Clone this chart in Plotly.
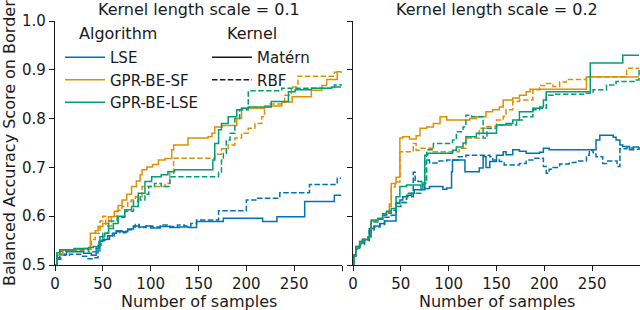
import plotly.graph_objects as go

# ---------------- data ----------------
algorithms = ["LSE", "GPR-BE-SF", "GPR-BE-LSE"]
kernels = ["Matérn", "RBF"]
legend_titles = ["Algorithm", "Kernel"]
panel_titles = ["Kernel length scale = 0.1", "Kernel length scale = 0.2"]
x_tick_vals = [0, 50, 100, 150, 200, 250, 300]
x_tick_text = ["0", "50", "100", "150", "200", "250", ""]
y_tick_vals = [0.5, 0.6, 0.7, 0.8, 0.9, 1.0]
y_tick_text = ["0.5", "0.6", "0.7", "0.8", "0.9", "1.0"]

# ----- length scale 0.1 -----
s1_lse_matern_x = [0, 2, 5, 12, 30, 38, 43, 46, 50, 55, 60, 64, 70, 76, 82, 88, 95, 100, 110, 120, 130, 140, 148, 176, 217, 232, 261, 292, 299]
s1_lse_matern_y = [0.500, 0.515, 0.522, 0.527, 0.524, 0.520, 0.535, 0.548, 0.552, 0.560, 0.565, 0.570, 0.568, 0.574, 0.580, 0.578, 0.580, 0.576, 0.579, 0.577, 0.578, 0.577, 0.589, 0.596, 0.589, 0.599, 0.630, 0.643, 0.643]
s1_lse_rbf_x = [0, 2, 6, 15, 28, 33, 40, 45, 48, 52, 57, 62, 68, 74, 80, 84, 88, 95, 102, 110, 120, 128, 135, 142, 148, 171, 200, 212, 235, 266, 295, 299]
s1_lse_rbf_y = [0.500, 0.512, 0.520, 0.522, 0.518, 0.513, 0.515, 0.540, 0.550, 0.553, 0.560, 0.568, 0.566, 0.572, 0.578, 0.583, 0.577, 0.580, 0.578, 0.582, 0.579, 0.582, 0.580, 0.585, 0.592, 0.611, 0.633, 0.637, 0.648, 0.665, 0.678, 0.678]
s1_sf_matern_x = [0, 2, 8, 20, 30, 37, 42, 45, 50, 56, 62, 66, 70, 75, 80, 85, 89, 91, 96, 102, 108, 115, 122, 124, 139, 160, 164, 167, 175, 190, 195, 219, 237, 248, 268, 279, 284, 295, 299]
s1_sf_matern_y = [0.500, 0.520, 0.530, 0.532, 0.534, 0.565, 0.570, 0.579, 0.585, 0.599, 0.610, 0.622, 0.633, 0.645, 0.661, 0.672, 0.685, 0.695, 0.701, 0.706, 0.715, 0.718, 0.736, 0.746, 0.760, 0.763, 0.770, 0.783, 0.786, 0.800, 0.821, 0.826, 0.834, 0.845, 0.858, 0.868, 0.880, 0.896, 0.896]
s1_sf_rbf_x = [0, 2, 8, 20, 30, 38, 42, 47, 50, 53, 59, 65, 70, 76, 80, 84, 91, 111, 115, 120, 124, 167, 174, 181, 188, 195, 202, 209, 216, 219, 223, 240, 247, 254, 292, 299]
s1_sf_rbf_y = [0.500, 0.520, 0.528, 0.530, 0.532, 0.552, 0.565, 0.590, 0.600, 0.580, 0.600, 0.612, 0.620, 0.630, 0.633, 0.640, 0.661, 0.661, 0.667, 0.688, 0.719, 0.727, 0.738, 0.746, 0.760, 0.770, 0.780, 0.790, 0.804, 0.824, 0.830, 0.848, 0.865, 0.887, 0.895, 0.897]
s1_bl_matern_x = [0, 2, 5, 20, 35, 40, 47, 52, 56, 61, 66, 73, 80, 87, 94, 101, 111, 118, 125, 165, 167, 171, 174, 181, 190, 195, 202, 226, 244, 251, 268, 289, 299]
s1_bl_matern_y = [0.500, 0.525, 0.531, 0.534, 0.536, 0.538, 0.558, 0.565, 0.575, 0.585, 0.600, 0.613, 0.620, 0.647, 0.671, 0.681, 0.685, 0.691, 0.695, 0.715, 0.749, 0.777, 0.790, 0.804, 0.818, 0.821, 0.824, 0.835, 0.855, 0.859, 0.862, 0.865, 0.865]
s1_bl_rbf_x = [0, 2, 5, 20, 35, 42, 47, 50, 56, 65, 73, 82, 87, 89, 94, 98, 104, 111, 120, 171, 174, 176, 179, 183, 188, 193, 202, 237, 292, 299]
s1_bl_rbf_y = [0.500, 0.522, 0.528, 0.532, 0.527, 0.527, 0.550, 0.565, 0.590, 0.598, 0.610, 0.630, 0.640, 0.633, 0.645, 0.661, 0.667, 0.661, 0.681, 0.690, 0.715, 0.729, 0.756, 0.770, 0.800, 0.818, 0.857, 0.862, 0.869, 0.871]

# ----- length scale 0.2 -----
s2_lse_matern_x = [0, 1, 3, 7, 12, 17, 22, 28, 33, 45, 49, 52, 57, 61, 64, 75, 80, 94, 98, 103, 104, 115, 117, 132, 136, 139, 143, 150, 157, 160, 167, 174, 181, 195, 199, 205, 254, 258, 272, 275, 279, 282, 289, 293, 299]
s2_lse_matern_y = [0.500, 0.520, 0.535, 0.545, 0.552, 0.575, 0.580, 0.585, 0.590, 0.626, 0.633, 0.640, 0.643, 0.647, 0.654, 0.657, 0.661, 0.655, 0.658, 0.691, 0.715, 0.715, 0.691, 0.699, 0.722, 0.700, 0.712, 0.725, 0.732, 0.726, 0.736, 0.733, 0.729, 0.731, 0.739, 0.736, 0.756, 0.766, 0.762, 0.756, 0.746, 0.743, 0.736, 0.742, 0.742]
s2_lse_rbf_x = [0, 1, 3, 7, 12, 17, 22, 28, 33, 40, 45, 50, 56, 63, 65, 68, 73, 75, 80, 90, 98, 110, 118, 143, 146, 153, 158, 174, 181, 188, 199, 202, 205, 209, 216, 226, 233, 244, 247, 251, 254, 261, 265, 276, 279, 286, 293, 299]
s2_lse_rbf_y = [0.500, 0.518, 0.533, 0.542, 0.550, 0.570, 0.578, 0.583, 0.598, 0.602, 0.620, 0.628, 0.640, 0.690, 0.672, 0.671, 0.655, 0.715, 0.709, 0.713, 0.715, 0.722, 0.725, 0.722, 0.715, 0.712, 0.705, 0.708, 0.715, 0.719, 0.702, 0.688, 0.696, 0.700, 0.707, 0.710, 0.713, 0.725, 0.735, 0.730, 0.722, 0.708, 0.713, 0.702, 0.738, 0.740, 0.737, 0.742]
s2_sf_matern_x = [0, 1, 3, 7, 10, 16, 19, 26, 31, 35, 38, 40, 45, 49, 52, 59, 66, 70, 77, 84, 91, 98, 122, 129, 139, 146, 153, 157, 167, 174, 181, 185, 244, 299]
s2_sf_matern_y = [0.500, 0.520, 0.538, 0.548, 0.552, 0.558, 0.590, 0.594, 0.603, 0.608, 0.625, 0.667, 0.680, 0.760, 0.763, 0.758, 0.765, 0.780, 0.783, 0.790, 0.804, 0.797, 0.800, 0.804, 0.814, 0.818, 0.824, 0.838, 0.842, 0.848, 0.855, 0.860, 0.885, 0.885]
s2_sf_rbf_x = [0, 1, 3, 7, 10, 16, 19, 26, 31, 35, 38, 40, 44, 49, 63, 66, 70, 84, 98, 111, 118, 132, 139, 150, 157, 160, 167, 174, 188, 195, 202, 209, 216, 223, 244, 286, 299]
s2_sf_rbf_y = [0.500, 0.520, 0.538, 0.548, 0.552, 0.558, 0.590, 0.594, 0.603, 0.608, 0.620, 0.660, 0.670, 0.732, 0.749, 0.735, 0.739, 0.732, 0.732, 0.739, 0.760, 0.780, 0.784, 0.797, 0.805, 0.818, 0.835, 0.838, 0.859, 0.868, 0.872, 0.866, 0.875, 0.880, 0.886, 0.903, 0.903]
s2_bl_matern_x = [0, 1, 3, 7, 10, 16, 19, 26, 31, 35, 40, 45, 49, 56, 75, 78, 104, 108, 115, 118, 129, 150, 160, 167, 174, 188, 195, 199, 202, 248, 282, 299]
s2_bl_matern_y = [0.500, 0.520, 0.538, 0.548, 0.552, 0.558, 0.592, 0.596, 0.605, 0.610, 0.616, 0.640, 0.661, 0.664, 0.725, 0.729, 0.735, 0.742, 0.750, 0.763, 0.770, 0.787, 0.790, 0.797, 0.814, 0.821, 0.824, 0.838, 0.855, 0.914, 0.930, 0.930]
s2_bl_rbf_x = [0, 1, 3, 7, 10, 16, 19, 26, 31, 35, 40, 45, 56, 71, 77, 84, 104, 108, 115, 118, 124, 136, 140, 150, 171, 178, 188, 195, 202, 209, 244, 251, 265, 275, 296, 299]
s2_bl_rbf_y = [0.500, 0.520, 0.536, 0.546, 0.552, 0.558, 0.588, 0.594, 0.602, 0.606, 0.612, 0.628, 0.647, 0.668, 0.736, 0.749, 0.756, 0.773, 0.783, 0.807, 0.804, 0.760, 0.780, 0.787, 0.797, 0.804, 0.818, 0.821, 0.848, 0.850, 0.852, 0.859, 0.869, 0.876, 0.879, 0.900]

# ---------------- styling ----------------
colors = {"LSE": "#0173B2", "GPR-BE-SF": "#DE8F05", "GPR-BE-LSE": "#029E73"}
dashes = {"Matérn": "solid", "RBF": "5.5px,2.4px"}
FONT = "DejaVu Sans"
INK = "#1a1a1a"

W, H = 640, 310
ML, MR, MT, MB = 55, 0, 21, 45
PW = W - ML - MR
PH = H - MT - MB

def px_x(p):
    return (p - ML) / PW

def px_y(p):
    return (H - MB - p) / PH

series = {
    (0, "LSE", "Matérn"): (s1_lse_matern_x, s1_lse_matern_y),
    (0, "LSE", "RBF"): (s1_lse_rbf_x, s1_lse_rbf_y),
    (0, "GPR-BE-SF", "Matérn"): (s1_sf_matern_x, s1_sf_matern_y),
    (0, "GPR-BE-SF", "RBF"): (s1_sf_rbf_x, s1_sf_rbf_y),
    (0, "GPR-BE-LSE", "Matérn"): (s1_bl_matern_x, s1_bl_matern_y),
    (0, "GPR-BE-LSE", "RBF"): (s1_bl_rbf_x, s1_bl_rbf_y),
    (1, "LSE", "Matérn"): (s2_lse_matern_x, s2_lse_matern_y),
    (1, "LSE", "RBF"): (s2_lse_rbf_x, s2_lse_rbf_y),
    (1, "GPR-BE-SF", "Matérn"): (s2_sf_matern_x, s2_sf_matern_y),
    (1, "GPR-BE-SF", "RBF"): (s2_sf_rbf_x, s2_sf_rbf_y),
    (1, "GPR-BE-LSE", "Matérn"): (s2_bl_matern_x, s2_bl_matern_y),
    (1, "GPR-BE-LSE", "RBF"): (s2_bl_rbf_x, s2_bl_rbf_y),
}

fig = go.Figure()
for panel in (0, 1):
    for alg in algorithms:
        for ker in kernels:
            xs, ys = series[(panel, alg, ker)]
            show = panel == 0 and ker == "Matérn"
            fig.add_trace(go.Scatter(
                x=xs, y=ys, mode="lines", line_shape="hv",
                line=dict(color=colors[alg], width=1.5, dash=dashes[ker]),
                name=alg, showlegend=show, legend="legend",
                xaxis="x" if panel == 0 else "x2",
                yaxis="y" if panel == 0 else "y2",
                hoverinfo="skip",
            ))

# kernel legend entries (style only)
for ker in kernels:
    fig.add_trace(go.Scatter(
        x=[None], y=[None], mode="lines",
        line=dict(color=INK, width=1.5, dash=dashes[ker]),
        name=ker, showlegend=True, legend="legend2",
        xaxis="x", yaxis="y",
    ))

axis_common = dict(
    showline=True, linecolor=INK, linewidth=1.25, mirror=False,
    ticks="outside", ticklen=5, tickwidth=1.25, tickcolor=INK,
    showgrid=False, zeroline=False, automargin=False,
    tickfont=dict(family=FONT, size=15, color=INK),
)

gap_l = px_x(342)
gap_r = px_x(353)

legend_common = dict(
    xanchor="left", yanchor="top", bgcolor="rgba(0,0,0,0)", borderwidth=0,
    font=dict(family=FONT, size=15, color=INK), itemwidth=40, tracegroupgap=0,
)

fig.update_layout(
    width=W, height=H,
    margin=dict(l=ML, r=MR, t=MT, b=MB, pad=0, autoexpand=False),
    paper_bgcolor="white", plot_bgcolor="white",
    font=dict(family=FONT, size=15, color=INK),
    xaxis=dict(domain=[0, gap_l], range=[0, 300], tickvals=x_tick_vals, ticktext=x_tick_text,
               anchor="y", **axis_common),
    xaxis2=dict(domain=[gap_r, 1], range=[0, 300], tickvals=x_tick_vals, ticktext=x_tick_text,
                anchor="y2", **axis_common),
    yaxis=dict(domain=[0, 1], range=[0.5, 1.0], tickvals=y_tick_vals, ticktext=y_tick_text,
               anchor="x", **axis_common),
    yaxis2=dict(domain=[0, 1], range=[0.5, 1.0], tickvals=y_tick_vals, ticktext=y_tick_text,
                anchor="x2", matches="y", showticklabels=False, **axis_common),
    legend=dict(x=px_x(60), y=px_y(41), **legend_common),
    legend2=dict(x=px_x(207), y=px_y(41), **legend_common),
    showlegend=True,
)

annotations = []
# legend column headings
for t, cxp in zip(legend_titles, (118, 252)):
    annotations.append(dict(text=t, xref="paper", yref="paper", x=px_x(cxp), y=px_y(33),
                            xanchor="center", yanchor="middle", showarrow=False,
                            font=dict(family=FONT, size=16, color=INK)))
for i, t in enumerate(panel_titles):
    cx = (0 + gap_l) / 2 if i == 0 else (gap_r + 1) / 2
    annotations.append(dict(text=t, xref="paper", yref="paper", x=cx, y=px_y(10),
                            xanchor="center", yanchor="middle", showarrow=False,
                            font=dict(family=FONT, size=16, color=INK)))
    annotations.append(dict(text="Number of samples", xref="paper", yref="paper", x=cx, y=px_y(301),
                            xanchor="center", yanchor="middle", showarrow=False,
                            font=dict(family=FONT, size=16, color=INK)))
annotations.append(dict(text="Balanced Accuracy Score on Border", xref="paper", yref="paper",
                        x=px_x(9), y=0.5, xanchor="center", yanchor="middle", textangle=-90,
                        showarrow=False, font=dict(family=FONT, size=16, color=INK)))
fig.update_layout(annotations=annotations)

fig.write_html("out.html",
               config={"displayModeBar": False},
               post_script="document.body.style.margin='0';document.body.style.overflow='hidden';")
